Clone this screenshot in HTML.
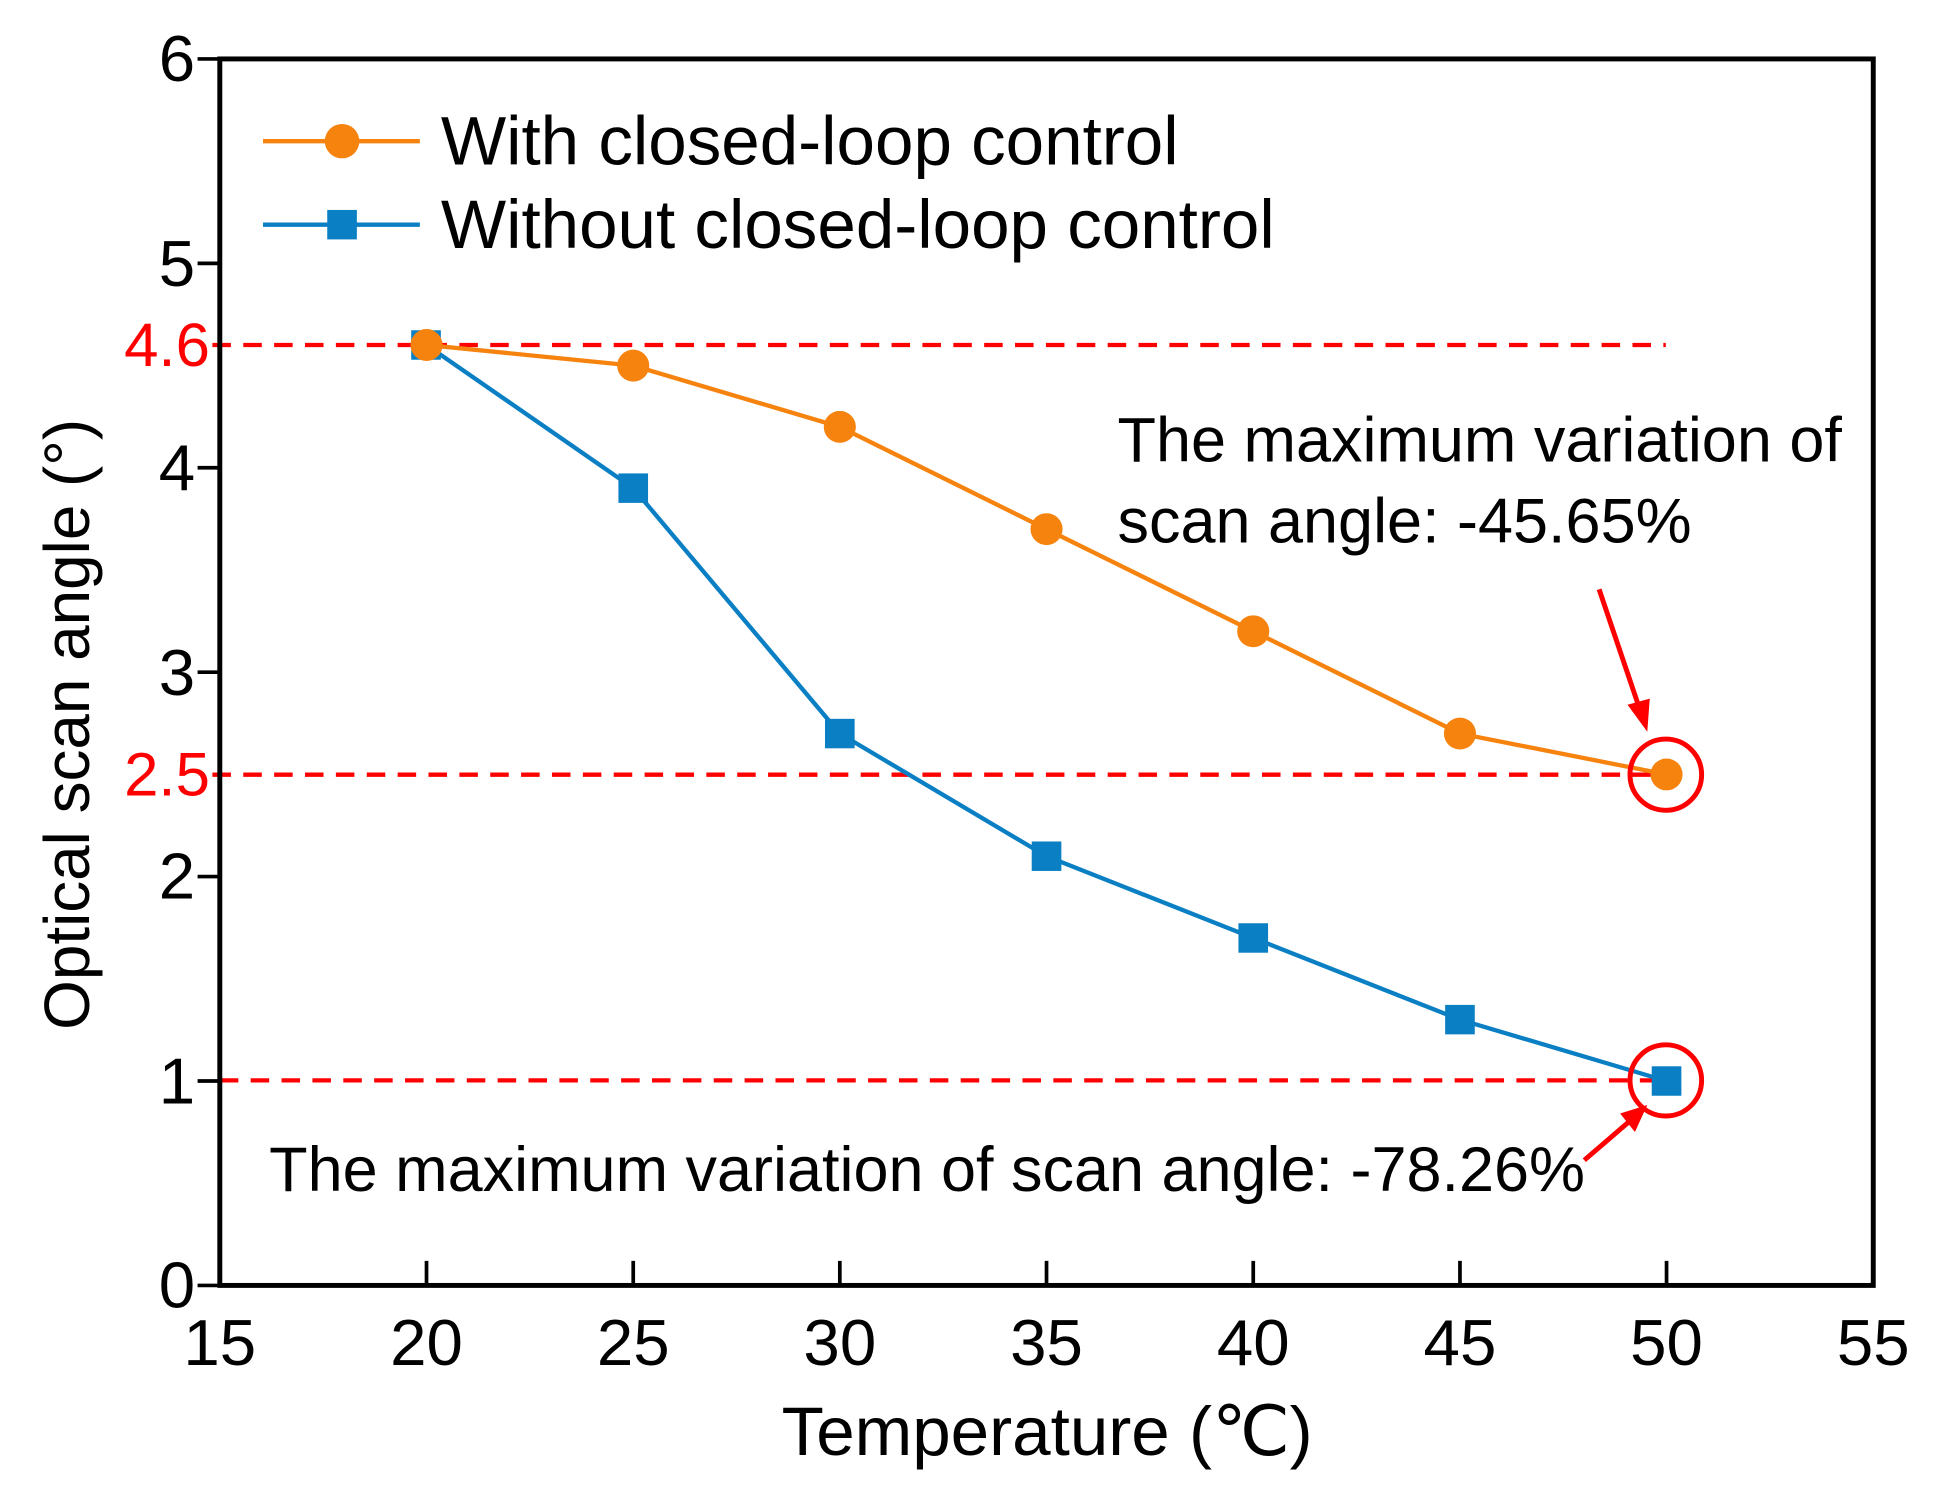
<!DOCTYPE html>
<html><head><style>html,body{margin:0;padding:0;background:#fff;}svg{display:block}</style></head>
<body>
<svg width="1935" height="1488" viewBox="0 0 1567 1212" preserveAspectRatio="none" xmlns="http://www.w3.org/2000/svg" font-family="Liberation Sans, Arial, sans-serif">
<rect width="1567" height="1212" fill="#fff"/>
<g stroke="#f00" stroke-width="3.5" stroke-dasharray="15,10" fill="none">
<line x1="172" y1="281" x2="1349" y2="281"/>
<line x1="172" y1="631" x2="1349" y2="631"/>
<line x1="178" y1="880" x2="1349" y2="880"/>
</g>
<rect x="178" y="48" width="1339" height="999" fill="none" stroke="#000" stroke-width="4"/>
<g stroke="#000" stroke-width="3">
<line x1="160" y1="48" x2="178" y2="48"/><line x1="160" y1="214.5" x2="178" y2="214.5"/>
<line x1="160" y1="381" x2="178" y2="381"/><line x1="160" y1="547.5" x2="178" y2="547.5"/>
<line x1="160" y1="714" x2="178" y2="714"/><line x1="160" y1="880.5" x2="178" y2="880.5"/>
<line x1="160" y1="1047" x2="178" y2="1047"/>
<line x1="345.4" y1="1047" x2="345.4" y2="1027"/><line x1="512.8" y1="1047" x2="512.8" y2="1027"/>
<line x1="680.1" y1="1047" x2="680.1" y2="1027"/><line x1="847.5" y1="1047" x2="847.5" y2="1027"/>
<line x1="1014.9" y1="1047" x2="1014.9" y2="1027"/><line x1="1182.3" y1="1047" x2="1182.3" y2="1027"/>
<line x1="1349.6" y1="1047" x2="1349.6" y2="1027"/>
</g>
<g font-size="53" text-anchor="end" fill="#000">
<text x="158" y="66">6</text><text x="158" y="233">5</text><text x="158" y="399">4</text>
<text x="158" y="566">3</text><text x="158" y="732">2</text><text x="158" y="899">1</text><text x="158" y="1065">0</text>
</g>
<g font-size="50" text-anchor="end" fill="#f00">
<text x="170" y="298">4.6</text><text x="170" y="648">2.5</text>
</g>
<g font-size="53" text-anchor="middle" fill="#000">
<text x="178" y="1112">15</text><text x="345.4" y="1112">20</text><text x="512.8" y="1112">25</text>
<text x="680.1" y="1112">30</text><text x="847.5" y="1112">35</text><text x="1014.9" y="1112">40</text>
<text x="1182.3" y="1112">45</text><text x="1349.6" y="1112">50</text><text x="1517" y="1112">55</text>
</g>
<text x="848" y="1185" font-size="56" text-anchor="middle">Temperature (℃)</text>
<text transform="translate(72,590) rotate(-90)" font-size="52" text-anchor="middle">Optical scan angle (°)</text>
<polyline fill="none" stroke="#0a7fc4" stroke-width="3.5" points="345.4,281 512.8,397.6 680.1,597.5 847.5,697.4 1014.9,764 1182.3,830.5 1349.6,880.5"/>
<g fill="#0a7fc4">
<rect x="333" y="269" width="24" height="24"/><rect x="500.8" y="385.6" width="24" height="24"/>
<rect x="668.1" y="585.5" width="24" height="24"/><rect x="835.5" y="685.4" width="24" height="24"/>
<rect x="1002.9" y="752" width="24" height="24"/><rect x="1170.3" y="818.5" width="24" height="24"/>
<rect x="1337.6" y="868.5" width="24" height="24"/>
</g>
<polyline fill="none" stroke="#f7830f" stroke-width="3.5" points="345.4,281 512.8,297.8 680.1,347.7 847.5,431 1014.9,514.2 1182.3,597.5 1349.6,630.8"/>
<g fill="#f7830f">
<circle cx="345.4" cy="281" r="13"/><circle cx="512.8" cy="297.8" r="13"/><circle cx="680.1" cy="347.7" r="13"/>
<circle cx="847.5" cy="431" r="13"/><circle cx="1014.9" cy="514.2" r="13"/><circle cx="1182.3" cy="597.5" r="13"/>
<circle cx="1349.6" cy="630.8" r="13"/>
</g>
<g fill="none" stroke="#f00" stroke-width="4">
<circle cx="1349" cy="631" r="29"/><circle cx="1349" cy="880" r="29"/>
<line x1="1295" y1="480" x2="1328" y2="578"/><line x1="1283" y1="945" x2="1320" y2="913"/>
</g>
<g fill="#f00">
<polygon points="1334,596 1318,574 1336,569"/>
<polygon points="1334,900 1324,922 1312,907"/>
</g>
<line x1="213" y1="115" x2="340" y2="115" stroke="#f7830f" stroke-width="3.5"/>
<circle cx="277" cy="115" r="14" fill="#f7830f"/>
<line x1="213" y1="183" x2="340" y2="183" stroke="#0a7fc4" stroke-width="3.5"/>
<rect x="265" y="171" width="24" height="24" fill="#0a7fc4"/>
<g font-size="56" fill="#000">
<text x="357" y="134">With closed-loop control</text>
<text x="357" y="202">Without closed-loop control</text>
</g>
<g font-size="51" fill="#000">
<text x="905" y="376">The maximum variation of</text>
<text x="905" y="442">scan angle: -45.65%</text>
<text x="218" y="970">The maximum variation of scan angle: -78.26%</text>
</g>
</svg>
</body></html>
